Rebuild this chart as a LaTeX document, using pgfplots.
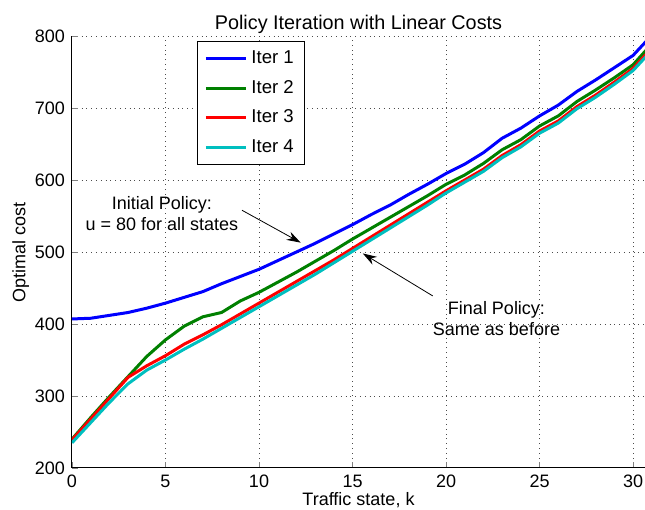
\documentclass[border=0pt]{standalone}
\usepackage{fontspec}
\setmainfont{Liberation Sans}
\usepackage{pgfplots}
\pgfplotsset{compat=1.18}
\usetikzlibrary{arrows.meta,calc}
\definecolor{mblue}{RGB}{0,0,255}
\definecolor{mgreen}{RGB}{0,128,0}
\definecolor{mred}{RGB}{255,0,0}
\definecolor{mcyan}{RGB}{0,191,191}
\newcommand{\ff}{\fontsize{9}{10.5}\selectfont}
\begin{document}
\begin{tikzpicture}
\begin{axis}[
  name=ax,
  scale only axis,
  width=286.5pt, height=216pt,
  xmin=0, xmax=30.64, ymin=200, ymax=800,
  axis x line*=bottom, axis y line*=left,
  axis line style={-, line width=0.5pt},
  xtick={0,5,...,30}, ytick={200,300,...,800},
  tick align=inside, major tick length=3pt,
  grid=major, major grid style={dotted, line width=0.5pt, black!70},
  /pgf/number format/assume math mode=true,
  tick label style={font=\ff},
  label style={font=\ff},
  title style={font=\fontsize{9.9}{11}\selectfont, yshift=-8.5pt},
  title={Policy Iteration with Linear Costs},
  xlabel={Traffic state, k},
  ylabel={Optimal cost},
  xlabel style={yshift=4.5pt},
  ylabel style={yshift=-4pt},
  clip=true,
  legend style={font=\fontsize{9.3}{10.5}\selectfont, at={(axis description cs:0.218,0.988)}, anchor=north west,
    draw=black, line width=0.5pt, inner xsep=3.5pt, inner ysep=2.5pt, row sep=2.8pt},
  legend cell align=left,
  legend image code/.code={\draw[#1, line width=1.5pt] (0pt,0pt) -- (20pt,0pt);},
  every axis plot/.append style={line width=1.5pt},
]
\addplot[mblue] table {
0 407
1 408
2 412
3 416
4 422
5 429
6 437
7 445
8 456
9 466
10 476
11 488
12 500
13 512
14 525
15 538
16 552
17 565
18 580
19 594
20 609
21 622
22 638
23 658
24 672
25 689
26 704
27 723
28 739
29 756
30 773
31 801
};
\addlegendentry{Iter 1}
\addplot[mgreen] table {
0 240
1 270
2 299
3 327
4 355
5 378
6 397
7 410
8 416
9 432
10 444
11 458
12 472
13 487
14 502
15 518
16 533
17 548
18 563
19 578
20 594
21 607
22 623
23 642
24 656
25 675
26 689
27 709
28 725
29 742
30 760
31 789
};
\addlegendentry{Iter 2}
\addplot[mred] table {
0 239
1 268
2 297
3 326
4 342
5 356
6 372
7 385
8 399
9 414
10 429
11 444
12 459
13 474
14 489
15 505
16 521
17 537
18 553
19 569
20 585
21 600
22 615
23 634
24 649
25 668
26 682
27 702
28 718
29 736
30 755
31 783
};
\addlegendentry{Iter 3}
\addplot[mcyan] table {
0 235
1 263
2 291
3 317
4 336
5 350
6 365
7 379
8 394
9 409
10 424
11 439
12 454
13 469
14 485
15 501
16 517
17 533
18 549
19 565
20 582
21 597
22 612
23 631
24 646
25 665
26 679
27 699
28 715
29 733
30 752
31 780
};
\addlegendentry{Iter 4}
\node[font=\ff, align=center] at (axis cs:4.81,554) {Initial Policy:\\u = 80 for all states};
\draw[-{Stealth[length=7pt,width=4.5pt]}, line width=0.4pt] (axis cs:9.09,558) -- (axis cs:12.23,513);
\node[font=\ff, align=center] at (axis cs:22.7,408) {Final Policy:\\Same as before};
\draw[-{Stealth[length=7pt,width=4.5pt]}, line width=0.4pt] (axis cs:19.29,439) -- (axis cs:15.55,498);
\end{axis}
\pgfresetboundingbox
\path ($(ax.south west)+(-36pt,-21pt)$) rectangle ($(ax.south west)+(286.5pt,234pt)$);
\end{tikzpicture}
\end{document}
